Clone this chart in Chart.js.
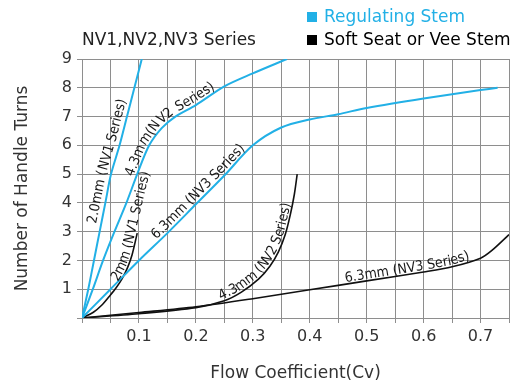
<!DOCTYPE html>
<html>
<head>
<meta charset="utf-8">
<title>NV1,NV2,NV3 Series</title>
<script src="https://cdn.jsdelivr.net/npm/chart.js@4.4.1/dist/chart.umd.min.js"></script>
<style>
  html, body { margin: 0; padding: 0; background: #fff; }
</style>
</head>
<body>
<canvas id="curvas" width="513" height="388"></canvas>
<script>
// Datos: Cv (eje x) y numero de vueltas (eje y)
const cvRegNV1 = [0, 0.011, 0.021, 0.031, 0.041, 0.051, 0.066, 0.079, 0.092, 0.105];
const vueltasRegNV1 = [0, 1, 2, 3, 4, 5, 6, 7, 8, 9];

const cvRegNV2 = [0, 0.019, 0.037, 0.057, 0.078, 0.097, 0.118, 0.14, 0.164, 0.2, 0.25, 0.3, 0.36];
const vueltasRegNV2 = [0, 1, 2, 3, 4, 5, 6, 6.6, 7, 7.4, 8.05, 8.5, 9];

const cvRegNV3 = [0, 0.05, 0.1, 0.15, 0.2, 0.25, 0.3, 0.35, 0.4, 0.45, 0.5, 0.6, 0.7, 0.73];
const vueltasRegNV3 = [0, 1.0, 2.0, 2.95, 3.95, 4.95, 6.0, 6.62, 6.9, 7.08, 7.3, 7.63, 7.92, 8.0];

const cvSoftNV1 = [0, 0.02, 0.035, 0.05, 0.06, 0.07, 0.08, 0.088, 0.097];
const vueltasSoftNV1 = [0, 0.2, 0.45, 0.8, 1.05, 1.35, 1.75, 2.2, 2.95];

const cvSoftNV2 = [0, 0.1, 0.2, 0.25, 0.28, 0.31, 0.33, 0.345, 0.357, 0.366, 0.373, 0.378];
const vueltasSoftNV2 = [0, 0.15, 0.36, 0.6, 0.9, 1.35, 1.8, 2.3, 2.9, 3.6, 4.3, 5.0];

const cvSoftNV3 = [0, 0.1, 0.2, 0.3, 0.4, 0.5, 0.6, 0.65, 0.7, 0.72, 0.75];
const vueltasSoftNV3 = [0, 0.19, 0.39, 0.67, 0.98, 1.29, 1.6, 1.78, 2.08, 2.35, 2.9];

// etiquetas de los ejes
const xTickLabels = ['0.1', '0.2', '0.3', '0.4', '0.5', '0.6', '0.7'];
const yTickLabels = ['1', '2', '3', '4', '5', '6', '7', '8', '9'];
const leyenda = ['Regulating Stem', 'Soft Seat or Vee Stem'];

const AZUL = '#22b0e6';
const NEGRO = '#111111';
const GRIS = '#8e8e8e';
const FUENTE = '"DejaVu Sans", sans-serif';

function puntos(xs, ys) {
    return xs.map((x, i) => ({ x: x, y: ys[i] }));
}

function serie(xs, ys, color, ancho) {
    return {
        data: puntos(xs, ys),
        showLine: true,
        borderColor: color,
        backgroundColor: color,
        borderWidth: ancho,
        pointRadius: 0,
        tension: 0.3
    };
}

// texto que sigue cada curva (dataset, texto, distancia desde el origen, separacion)
const etiquetas = [
    { ds: 0, texto: '2.0mm (NV1 Series)', inicio: 95, sep: 5 },
    { ds: 1, texto: '4.3mm(NV2 Series)', inicio: 150, sep: 3 },
    { ds: 2, texto: '6.3mm (NV3 Series)', inicio: 108, sep: 3 },
    { ds: 3, texto: '2mm (NV1 Series)', inicio: 52, sep: 2 },
    { ds: 4, texto: '4.3mm (NV2 Series)', inicio: 141, sep: 2 },
    { ds: 5, texto: '6.3mm (NV3 Series)', inicio: 266, sep: 2 }
];

// punto y angulo a una distancia s a lo largo de la polilinea
function puntoEn(pts, s) {
    let acum = 0;
    for (let i = 1; i < pts.length; i++) {
        const dx = pts[i].x - pts[i - 1].x;
        const dy = pts[i].y - pts[i - 1].y;
        const l = Math.hypot(dx, dy);
        if (acum + l >= s || i === pts.length - 1) {
            const t = l > 0 ? (s - acum) / l : 0;
            return { x: pts[i - 1].x + dx * t, y: pts[i - 1].y + dy * t, a: Math.atan2(dy, dx) };
        }
        acum += l;
    }
    return { x: pts[0].x, y: pts[0].y, a: 0 };
}

function textoEnCurva(ctx, pts, texto, inicio, sep) {
    let s = inicio;
    for (const ch of texto) {
        const w = ctx.measureText(ch).width;
        const p = puntoEn(pts, s + w / 2);
        ctx.save();
        ctx.translate(p.x, p.y);
        ctx.rotate(p.a);
        ctx.fillText(ch, -w / 2, -sep);
        ctx.restore();
        s += w;
    }
}

const pluginTextos = {
    id: 'textos',
    afterDatasetsDraw(chart) {
        const ctx = chart.ctx;
        ctx.save();
        ctx.fillStyle = '#1a1a1a';
        ctx.font = '14px "DejaVu Sans Condensed", "DejaVu Sans", sans-serif';
        ctx.textBaseline = 'alphabetic';
        ctx.textAlign = 'left';
        etiquetas.forEach(e => {
            const pts = chart.getDatasetMeta(e.ds).data.map(p => ({ x: p.x, y: p.y }));
            textoEnCurva(ctx, pts, e.texto, e.inicio, e.sep);
        });
        ctx.restore();
    },
    afterDraw(chart) {
        const ctx = chart.ctx;
        ctx.save();
        ctx.font = '17px ' + FUENTE;
        ctx.textBaseline = 'alphabetic';
        ctx.textAlign = 'left';
        // titulo
        ctx.fillStyle = '#222';
        ctx.fillText('NV1,NV2,NV3 Series', chart.chartArea.left, 45);
        // leyenda
        ctx.fillStyle = AZUL;
        ctx.fillRect(307, 12, 10, 10);
        ctx.fillText(leyenda[0], 324, 22);
        ctx.fillStyle = '#000';
        ctx.fillRect(307, 35, 10, 10);
        ctx.fillText(leyenda[1], 324, 45);
        ctx.restore();
    }
};

function cargaGrafico() {
    const datos = {
        datasets: [
            serie(cvRegNV1, vueltasRegNV1, AZUL, 2),
            serie(cvRegNV2, vueltasRegNV2, AZUL, 2),
            serie(cvRegNV3, vueltasRegNV3, AZUL, 2),
            serie(cvSoftNV1, vueltasSoftNV1, NEGRO, 1.6),
            serie(cvSoftNV2, vueltasSoftNV2, NEGRO, 1.6),
            serie(cvSoftNV3, vueltasSoftNV3, NEGRO, 1.6)
        ]
    };

    const config = {
        type: 'scatter',
        data: datos,
        plugins: [pluginTextos],
        options: {
            responsive: false,
            animation: false,
            layout: { padding: { top: 59, left: 0, right: 0, bottom: 0 } },
            plugins: {
                legend: { display: false },
                tooltip: { enabled: false }
            },
            scales: {
                x: {
                    type: 'linear',
                    min: 0,
                    max: 0.75,
                    ticks: {
                        stepSize: 0.05,
                        autoSkip: false,
                        maxRotation: 0,
                        padding: 4,
                        color: '#333',
                        font: { family: FUENTE, size: 16 },
                        callback: function (v) {
                            const t = (Math.round(v * 20) / 20).toFixed(1);
                            return (Math.round(v * 20) % 2 === 0 && xTickLabels.includes(t)) ? t : '';
                        }
                    },
                    grid: { color: GRIS, lineWidth: 1, tickLength: 5 },
                    border: { color: GRIS, width: 1 },
                    title: {
                        display: true,
                        text: 'Flow Coefficient(Cv)',
                        color: '#333',
                        font: { family: FUENTE, size: 17 },
                        padding: { top: 0, bottom: 4 }
                    },
                    afterFit: function (scale) { scale.height = 70; }
                },
                y: {
                    min: 0,
                    max: 9,
                    ticks: {
                        stepSize: 1,
                        padding: 5,
                        color: '#333',
                        font: { family: FUENTE, size: 16 },
                        callback: function (v) {
                            return yTickLabels.includes(String(v)) ? String(v) : '';
                        }
                    },
                    grid: { color: GRIS, lineWidth: 1, tickLength: 5 },
                    border: { color: GRIS, width: 1 },
                    title: {
                        display: true,
                        text: 'Number of Handle Turns',
                        color: '#333',
                        font: { family: FUENTE, size: 17 },
                        padding: { top: 12, bottom: 0 }
                    },
                    afterFit: function (scale) { scale.width = 82; }
                }
            }
        }
    };

    new Chart(document.getElementById('curvas').getContext('2d'), config);
}

cargaGrafico();
</script>
</body>
</html>
